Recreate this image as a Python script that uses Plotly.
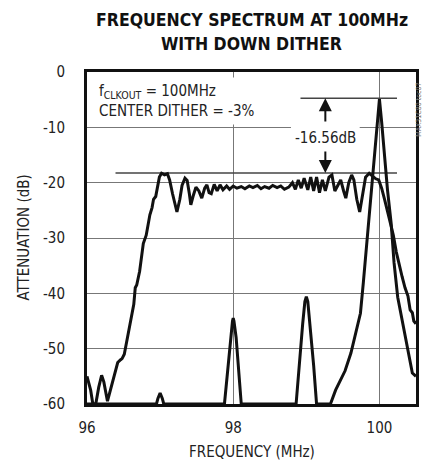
import plotly.graph_objects as go

# ---- data ----
dither_freq = [96.00, 96.02, 96.05, 96.08, 96.12, 96.16, 96.20, 96.23, 96.26, 96.28, 96.31, 96.34,
               96.36, 96.39, 96.42, 96.46, 96.48, 96.51, 96.53, 96.56, 96.59, 96.62, 96.64, 96.66,
               96.68, 96.72, 96.75, 96.77, 96.81, 96.83, 96.86, 96.89, 96.91, 96.94, 96.97, 96.99,
               97.02, 97.06, 97.10, 97.13, 97.17, 97.21, 97.23, 97.27, 97.30, 97.34, 97.37, 97.40,
               97.42, 97.45, 97.49, 97.53, 97.57, 97.61, 97.64, 97.67, 97.70, 97.74, 97.78, 97.82,
               97.86, 97.91, 97.95, 98.00, 98.05, 98.11, 98.16, 98.22, 98.27, 98.33, 98.38, 98.43,
               98.49, 98.54, 98.60, 98.65, 98.70, 98.76, 98.81, 98.85, 98.89, 98.93, 98.97, 99.02,
               99.06, 99.10, 99.14, 99.18, 99.22, 99.26, 99.31, 99.35, 99.39, 99.43, 99.47, 99.51,
               99.54, 99.58, 99.62, 99.65, 99.69, 99.73, 99.77, 99.81, 99.86, 99.90, 99.95, 99.99,
               100.03, 100.07, 100.11, 100.15, 100.19, 100.23, 100.27, 100.31, 100.35, 100.39,
               100.42, 100.45, 100.47, 100.50]
dither_db = [-55.0, -56.0, -57.5, -60.0, -60.0, -57.0, -54.8, -56.0, -58.5, -59.5, -58.0, -56.5,
             -55.0, -53.5, -52.5, -52.0, -51.8, -51.0, -49.5, -47.5, -45.5, -43.5, -42.0, -39.0,
             -38.5, -36.0, -33.5, -31.0, -29.5, -28.0, -25.8, -24.5, -23.0, -22.5, -20.2, -19.0,
             -18.3, -18.6, -18.4, -19.5, -22.0, -24.5, -25.3, -23.0, -20.5, -19.2, -19.6, -22.0,
             -24.0, -22.5, -20.8, -21.5, -22.8, -21.0, -20.4, -21.8, -22.0, -20.3, -21.5, -20.4,
             -21.3, -20.6, -21.2, -20.6, -21.0, -20.7, -21.1, -20.6, -20.9, -20.5, -21.1, -20.7,
             -21.0, -20.5, -20.9, -20.6, -21.2, -20.8, -20.0, -21.2, -19.5, -21.0, -19.2, -21.3,
             -19.0, -21.5, -19.0, -21.8, -19.5, -21.5, -19.0, -18.6, -21.5, -20.5, -19.5, -21.5,
             -22.8, -20.0, -18.6, -19.5, -23.0, -25.3, -22.0, -19.0, -18.3, -18.8, -19.3, -19.5,
             -21.0, -23.0, -25.0, -27.0, -29.5, -32.5, -35.0, -37.0, -39.0, -40.5,
             -43.0, -43.5, -45.0, -45.5]

plain_freq = [96.00, 96.95, 96.97, 97.00, 97.03, 97.05, 97.88, 97.92, 97.96, 97.99, 98.00, 98.01,
              98.04, 98.08, 98.11, 98.86, 98.90, 98.95, 98.98, 99.00, 99.02, 99.05, 99.10, 99.14,
              99.33, 99.40, 99.53, 99.61, 99.68, 99.74, 99.78, 99.84, 99.89, 99.93, 99.97, 100.00,
              100.03, 100.07, 100.11, 100.16, 100.20, 100.25, 100.32, 100.39, 100.45, 100.50]
plain_db = [-60.0, -60.0, -59.0, -58.0, -59.0, -60.0, -60.0, -54.0, -48.0, -45.0, -44.5, -45.0,
            -48.0, -54.0, -60.0, -60.0, -53.0, -45.5, -41.5, -40.6, -41.5, -45.5, -53.0, -60.0,
            -60.0, -57.5, -54.0, -50.8, -47.2, -43.6, -38.0, -29.0, -22.0, -15.3, -9.0, -4.9,
            -9.0, -15.3, -21.3, -27.3, -34.5, -40.7, -45.4, -50.2, -54.4, -55.0]

x_ticks = [96, 98, 100]
x_tick_labels = ["96", "98", "100"]
y_ticks = [0, -10, -20, -30, -40, -50, -60]
y_tick_labels = ["0", "-10", "-20", "-30", "-40", "-50", "-60"]

ref_top_db = -4.75
ref_bot_db = -18.25
ref_top_span = [98.92, 100.24]
ref_bot_span = [96.39, 100.24]
arrow_freq = 99.26

NARROW = "DejaVu Sans Condensed, Liberation Sans Narrow, Arial Narrow, sans-serif"

fig = go.Figure()
fig.add_trace(go.Scatter(x=dither_freq, y=dither_db, mode="lines",
                         line=dict(color="#111111", width=3), hoverinfo="skip"))
fig.add_trace(go.Scatter(x=plain_freq, y=plain_db, mode="lines",
                         line=dict(color="#111111", width=3), hoverinfo="skip"))

# reference level lines
fig.add_shape(type="line", x0=ref_top_span[0], x1=ref_top_span[1], y0=ref_top_db, y1=ref_top_db,
              xref="x", yref="y", line=dict(color="#444444", width=1.5), layer="between")
fig.add_shape(type="line", x0=ref_bot_span[0], x1=ref_bot_span[1], y0=ref_bot_db, y1=ref_bot_db,
              xref="x", yref="y", line=dict(color="#444444", width=1.5), layer="between")
# white gap behind the dB label
fig.add_shape(type="rect", x0=98.79, x1=99.73, y0=-10.8, y1=-9.2, xref="x", yref="y",
              fillcolor="white", line=dict(width=0), layer="between")

annos = []
annos.append(dict(text="<b>FREQUENCY SPECTRUM AT 100MHz</b>", xref="paper", yref="paper",
                  x=0.5, y=1.1566, xanchor="center", yanchor="middle", showarrow=False,
                  font=dict(family=NARROW, size=17.5, color="#111111")))
annos.append(dict(text="<b>WITH DOWN DITHER</b>", xref="paper", yref="paper",
                  x=0.5, y=1.0858, xanchor="center", yanchor="middle", showarrow=False,
                  font=dict(family=NARROW, size=17.5, color="#111111")))
annos.append(dict(text="FREQUENCY (MHz)", xref="paper", yref="paper",
                  x=0.5, y=-0.1446, xanchor="center", yanchor="middle", showarrow=False,
                  font=dict(family=NARROW, size=15, color="#222222")))
annos.append(dict(text="ATTENUATION (dB)", xref="paper", yref="paper", textangle=-90,
                  x=-0.1928, y=0.5, xanchor="center", yanchor="middle", showarrow=False,
                  font=dict(family=NARROW, size=15, color="#222222")))
annos.append(dict(text="f<sub>CLKOUT</sub> = 100MHz<br>CENTER DITHER = -3%", xref="paper", yref="paper",
                  x=0.022, y=0.9127, xanchor="left", yanchor="middle", align="left", showarrow=False,
                  bgcolor="white", borderpad=4,
                  font=dict(family=NARROW, size=15, color="#222222")))
annos.append(dict(text="-16.56dB", xref="x", yref="y", x=arrow_freq, y=-11.9,
                  xanchor="center", yanchor="middle", showarrow=False,
                  font=dict(family=NARROW, size=15, color="#222222")))
annos.append(dict(text="", xref="x", yref="y", x=arrow_freq, y=ref_top_db, axref="x", ayref="y",
                  ax=arrow_freq, ay=-9.2, showarrow=True, arrowhead=2, arrowsize=1.3,
                  arrowwidth=2, arrowcolor="#111111"))
annos.append(dict(text="", xref="x", yref="y", x=arrow_freq, y=ref_bot_db, axref="x", ayref="y",
                  ax=arrow_freq, ay=-14.1, showarrow=True, arrowhead=2, arrowsize=1.3,
                  arrowwidth=2, arrowcolor="#111111"))
annos.append(dict(text="MAX31C80 toc07", xref="paper", yref="paper", textangle=-90,
                  x=1.009, y=0.886, xanchor="center", yanchor="middle", showarrow=False,
                  font=dict(family=NARROW, size=7, color="#777777")))

fig.update_layout(
    width=426, height=463,
    margin=dict(l=87, r=7, t=72, b=59),
    paper_bgcolor="white", plot_bgcolor="white",
    showlegend=False,
    annotations=annos,
    xaxis=dict(range=[96, 100.5], tickvals=x_ticks, ticktext=x_tick_labels,
               showgrid=True, gridcolor="#777777", gridwidth=1,
               showline=True, linecolor="#111111", linewidth=3, mirror=True,
               ticks="", ticklabelstandoff=8, zeroline=False,
               tickfont=dict(family=NARROW, size=15, color="#222222")),
    yaxis=dict(range=[-60, 0], tickvals=y_ticks, ticktext=y_tick_labels,
               showgrid=True, gridcolor="#777777", gridwidth=1,
               showline=True, linecolor="#111111", linewidth=3, mirror=True,
               ticks="", ticklabelstandoff=16, zeroline=False,
               tickfont=dict(family=NARROW, size=15, color="#222222")),
)

fig.write_html("out.html", config={"displayModeBar": False, "staticPlot": True},
               post_script="document.body.style.margin='0px';document.body.style.padding='0px';")
